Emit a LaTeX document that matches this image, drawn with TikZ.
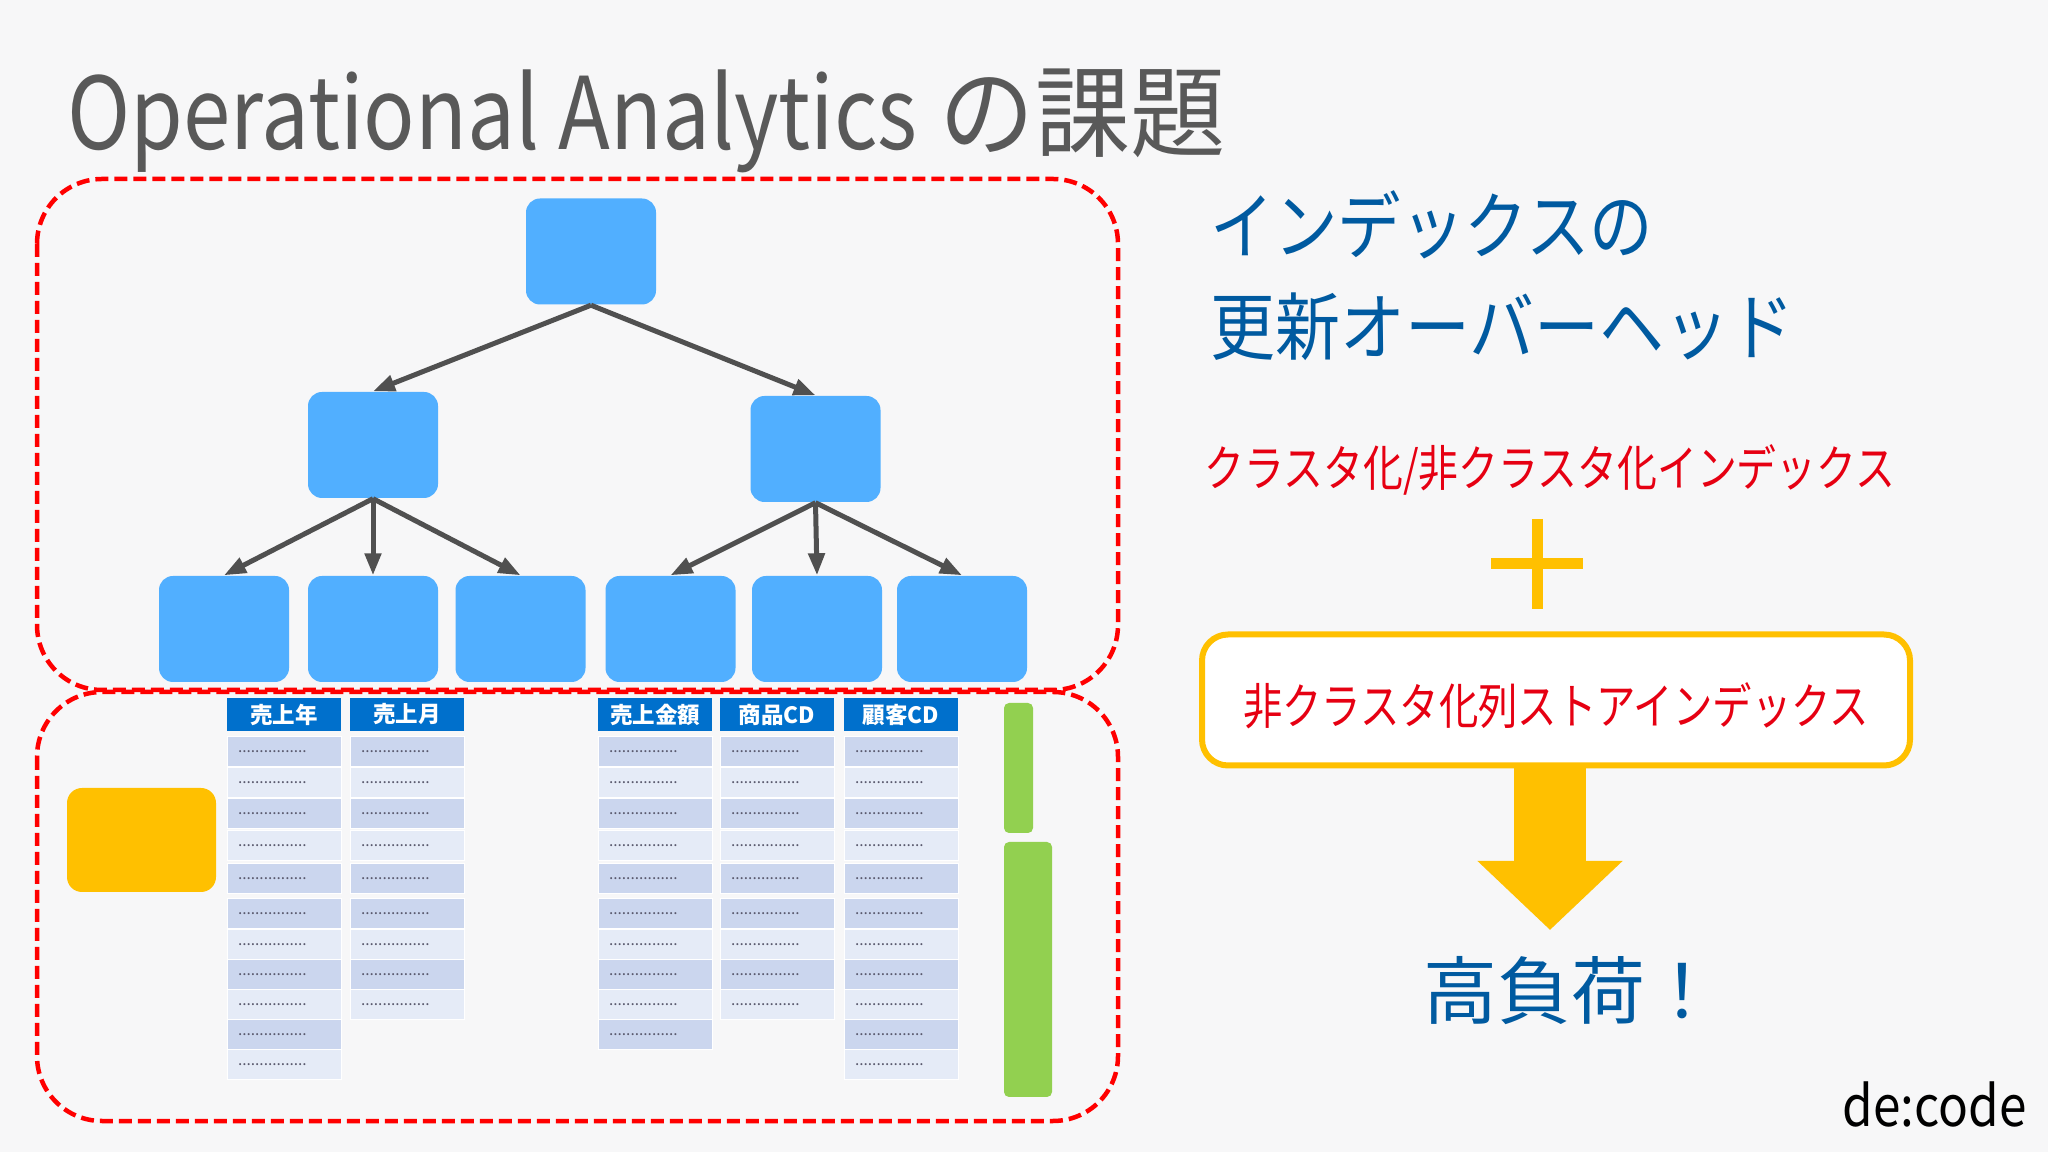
\documentclass[tikz,border=0pt]{standalone}
\usepackage{fontspec}
\setmainfont{Noto Sans CJK JP}
\usepackage{tikz}
\usetikzlibrary{arrows.meta}

\definecolor{bgcol}{RGB}{247,247,248}
\definecolor{nodeblue}{RGB}{81,175,255}
\definecolor{arrgray}{RGB}{80,80,80}
\definecolor{hdrblue}{RGB}{0,112,204}
\definecolor{rowdk}{RGB}{203,214,238}
\definecolor{rowlt}{RGB}{229,235,247}
\definecolor{dotgray}{RGB}{90,90,110}
\definecolor{barg}{RGB}{146,208,80}
\definecolor{gold}{RGB}{255,192,0}
\definecolor{txtblue}{RGB}{0,90,160}
\definecolor{txtred}{RGB}{230,0,18}
\definecolor{titlegray}{RGB}{89,89,89}

\tikzset{
    treebox/.style={fill=nodeblue, rounded corners=1.4mm, minimum width=13mm, minimum height=10.6mm, inner sep=0pt},
    link/.style={draw=arrgray, line width=0.5mm, -{Triangle[length=2.2mm, width=1.6mm]}},
    dashbox/.style={draw=red, line width=0.45mm, dash pattern=on 1.3mm off 0.6mm, rounded corners=6.5mm},
    colhead/.style={fill=hdrblue, text=white, font=\fontsize{6.4}{7}\selectfont\bfseries, minimum width=11.4mm, minimum height=3.3mm, inner sep=0pt},
    cellbox/.style={draw=white, line width=0.1mm, minimum height=3mm, text width=9.2mm, inner xsep=1.1mm, inner ysep=0pt, align=left, text=dotgray, font=\fontsize{4.4}{5}\selectfont},
}

\def\rowlist{751.5/rowdk, 782.5/rowlt, 814/rowdk, 846/rowlt, 878.5/rowdk, 913.5/rowdk, 944.5/rowlt, 974.5/rowdk, 1004.5/rowlt, 1035/rowdk, 1065/rowlt}

\begin{document}
\begin{tikzpicture}[x=0.1mm, y=-0.1mm]
                \fill[bgcol] (0,0) rectangle (2048,1152);
                \useasboundingbox (0,0) rectangle (2048,1152);

                \node[anchor=base west, text=titlegray, font=\fontsize{28.5}{34}\selectfont, inner sep=0pt] (title) at (67,150) {\scalebox{0.85}[1]{Operational Analytics} \scalebox{0.95}[1]{の課題}};

                \draw[dashbox] (37,179) rectangle (1118,690);
                \draw[dashbox] (37,692) rectangle (1118,1121);

                \node[treebox] (root) at (591,251.5) {};
                \node[treebox] (midl) at (373,445) {};
                \node[treebox] (midr) at (815.5,449) {};
                \node[treebox] (leaf1) at (224,629) {};
                \node[treebox] (leaf2) at (373,629) {};
                \node[treebox] (leaf3) at (520.5,629) {};
                \node[treebox] (leaf4) at (670.5,629) {};
                \node[treebox] (leaf5) at (817,629) {};
                \node[treebox] (leaf6) at (962,629) {};

                \draw[link] (root.south) -- (midl.north);
                \draw[link] (root.south) -- (midr.north);
                \draw[link] (midl.south) -- (leaf1.north);
                \draw[link] (midl.south) -- (leaf2.north);
                \draw[link] (midl.south) -- (leaf3.north);
                \draw[link] (midr.south) -- (leaf4.north);
                \draw[link] (midr.south) -- (leaf5.north);
                \draw[link] (midr.south) -- (leaf6.north);

                \fill[gold, rounded corners=1.5mm] (67,788) rectangle (216,892);

                \node[colhead] (hyear) at (284,714.5) {売上年};
                \node[colhead] (hmonth) at (407,714.5) {売上月};
                \node[colhead] (hamount) at (655,714.5) {売上金額};
                \node[colhead] (hprod) at (777,714.5) {商品CD};
                \node[colhead] (hcust) at (901,714.5) {顧客CD};

                \foreach \cx/\nr/\cn in {284/11/ya, 407/9/mo, 655/10/am, 777/9/pr, 901/11/cu} {
                    \foreach \yc/\cl [count=\i] in \rowlist {
                        \ifnum\i>\nr\else
                            \node[cellbox, fill=\cl] (\cn\i) at (\cx,\yc) {................};
                        \fi
                    }
                }

                \fill[barg, rounded corners=0.5mm] (1004,703) rectangle (1033,833);
                \fill[barg, rounded corners=0.5mm] (1004,842) rectangle (1052,1097);

                \node[anchor=west, text=txtblue, font=\fontsize{21}{25}\selectfont, inner sep=0pt] (ovh1) at (1210,225) {\scalebox{0.86}[1]{インデックスの}};
                \node[anchor=west, text=txtblue, font=\fontsize{21}{25}\selectfont, inner sep=0pt] (ovh2) at (1210,327) {\scalebox{0.88}[1]{更新オーバーヘッド}};

                \node[anchor=west, text=txtred, font=\fontsize{14}{17}\selectfont, inner sep=0pt] (idxtxt) at (1204,470) {\scalebox{0.81}[1]{クラスタ化/非クラスタ化インデックス}};

                \draw[gold, line width=1.1mm] (1491,564) -- (1583,564);
                \draw[gold, line width=1.1mm] (1537,519) -- (1537,609);

                \node[draw=gold, line width=0.6mm, fill=white, rounded corners=2.6mm, minimum width=70.8mm, minimum height=13.1mm, text=txtred, font=\fontsize{14}{17}\selectfont] (csi) at (1556,700) {\raisebox{-0.6mm}[\height][\depth]{\scalebox{0.8}[1]{非クラスタ化列ストアインデックス}}};

                \coordinate (loadtip) at (1550,930);
                \draw[gold, line width=7.2mm, -{Triangle[length=6.9mm, width=14.1mm]}] (csi.south -| loadtip) -- (loadtip);

                \node[anchor=west, text=txtblue, font=\fontsize{21}{25}\selectfont, inner sep=0pt] (load) at (1423,991) {高負荷！};

                \node[anchor=base west, font=\fontsize{16}{19}\selectfont, inner sep=0pt] (logo) at (1842,1126) {\scalebox{0.88}[1]{de:code}};
\end{tikzpicture}
\end{document}
